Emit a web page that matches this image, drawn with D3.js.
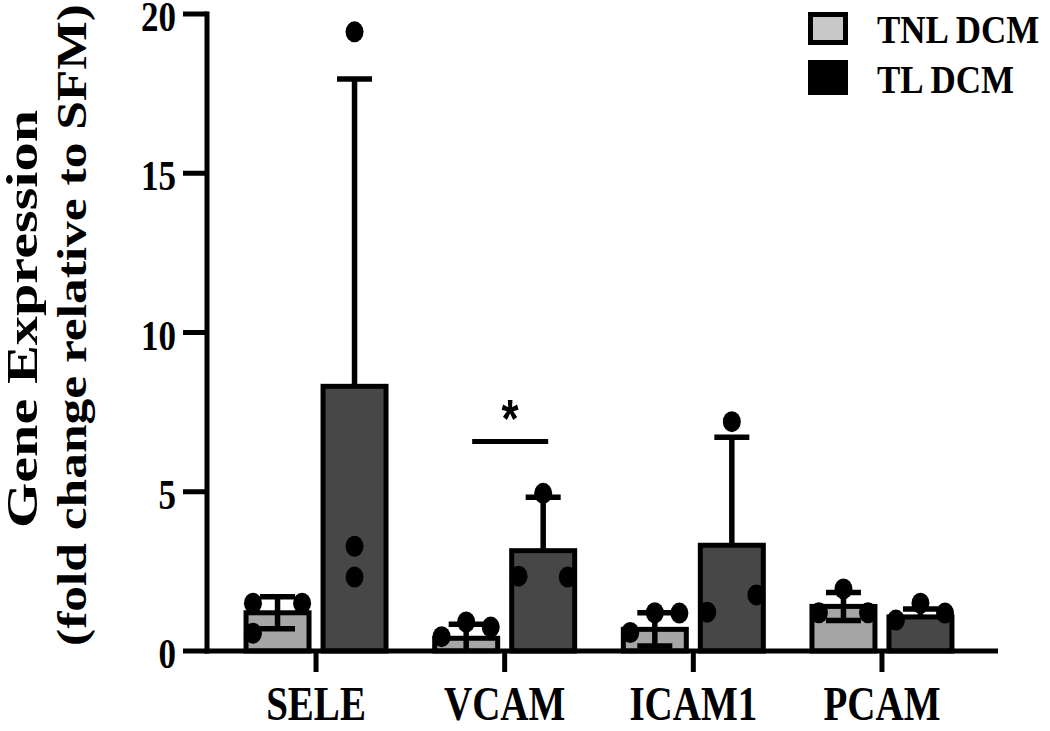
<!DOCTYPE html>
<html><head><meta charset="utf-8">
<script src="https://cdn.jsdelivr.net/npm/d3@7"></script>
<style>body{margin:0;background:#fff}svg{display:block}</style>
</head><body>
<script>
// ---- data ----
const categories = ["SELE", "VCAM", "ICAM1", "PCAM"];
const seriesNames = ["TNL DCM", "TL DCM"];
const tnlMean = [1.20, 0.40, 0.68, 1.40];
const tnlErr  = [0.50, 0.44, 0.52, 0.44];
const tlMean  = [8.31, 3.15, 3.32, 1.07];
const tlErr   = [9.65, 1.68, 3.39, 0.25];
const tnlPoints = [[1.50, 1.50, 0.56], [0.45, 0.91, 0.75], [0.58, 1.20, 1.19], [1.20, 1.95, 1.20]];
const tnlSlots  = [[-1, 1, -1], [-1, 0, 1], [-1, 0, 1], [-1, 0, 1]];
const tlPoints  = [[19.44, 3.29, 2.32], [4.95, 2.35, 2.32], [7.20, 1.22, 1.76], [0.97, 1.50, 1.19]];
const tlSlots   = [[0, 0, 0], [0, -1, 1], [0, -1, 1], [-1, 0, 1]];
const yTicks = [0, 5, 10, 15, 20];
const sigCategory = "VCAM";
const sigLevel = 6.58;
const sigLabel = "*";
const yTitleLines = ["Gene Expression", "(fold change relative to SFM)"];

// ---- layout ----
const W = 1050, H = 731;
const SY = 1.22; // vertical stretch of the original figure
const svg = d3.select("body").append("svg").attr("width", W).attr("height", H);
const serif = "'Liberation Serif','Times New Roman',serif";

const y = d3.scaleLinear().domain([0, 20]).range([651, 14]);
const x0 = d3.scaleBand().domain(categories).range([207, 991]).paddingInner(0).paddingOuter(0.078);
const groupW = 140;
const x1 = d3.scaleBand().domain(seriesNames).range([0, groupW]).paddingInner(0.182);
const bw = x1.bandwidth();
const gx = c => x0(c) + (x0.bandwidth() - groupW) / 2;

const series = [
  {name: seriesNames[0], mean: tnlMean, err: tnlErr, pts: tnlPoints, slots: tnlSlots, fill: "#a6a6a6", lower: true},
  {name: seriesNames[1], mean: tlMean, err: tlErr, pts: tlPoints, slots: tlSlots, fill: "#474747", lower: false}
];

const SW = 5;
// bars
series.forEach(s => {
  svg.append("g").selectAll("rect").data(categories).join("rect")
    .attr("x", c => gx(c) + x1(s.name))
    .attr("y", (c, i) => y(s.mean[i]))
    .attr("width", bw)
    .attr("height", (c, i) => y(0) - y(s.mean[i]))
    .attr("fill", s.fill).attr("stroke", "#000").attr("stroke-width", SW);
});

// error bars
const capW = 35;
series.forEach(s => {
  const g = svg.append("g").attr("stroke", "#000").attr("stroke-width", 5.5);
  categories.forEach((c, i) => {
    const cx = gx(c) + x1(s.name) + bw / 2;
    const top = s.mean[i] + s.err[i];
    g.append("line").attr("x1", cx).attr("x2", cx).attr("y1", y(s.mean[i])).attr("y2", y(top));
    g.append("line").attr("x1", cx - capW / 2).attr("x2", cx + capW / 2).attr("y1", y(top)).attr("y2", y(top));
    if (s.lower) {
      const lo = Math.max(0, s.mean[i] - s.err[i]);
      g.append("line").attr("x1", cx).attr("x2", cx).attr("y1", y(s.mean[i])).attr("y2", y(lo));
      if (lo > 0) g.append("line").attr("x1", cx - capW / 2).attr("x2", cx + capW / 2).attr("y1", y(lo)).attr("y2", y(lo));
    }
  });
});

// points
series.forEach(s => {
  const g = svg.append("g").attr("fill", "#000");
  categories.forEach((c, i) => {
    const cx = gx(c) + x1(s.name) + bw / 2;
    s.pts[i].forEach((v, k) => {
      g.append("ellipse").attr("cx", cx + s.slots[i][k] * bw * 0.39).attr("cy", y(v))
        .attr("rx", 9).attr("ry", 10.5);
    });
  });
});

// axes
const ax = svg.append("g").attr("stroke", "#000").attr("stroke-width", SW).attr("fill", "none");
ax.append("line").attr("x1", 207).attr("x2", 207).attr("y1", y(0) + 2.5).attr("y2", y(20) - 2.5);
ax.append("line").attr("x1", 204.5).attr("x2", 998).attr("y1", y(0)).attr("y2", y(0));
yTicks.forEach(t => {
  ax.append("line").attr("x1", 183).attr("x2", 207).attr("y1", y(t)).attr("y2", y(t));
});
categories.forEach(c => {
  const cx = x0(c) + x0.bandwidth() / 2;
  ax.append("line").attr("x1", cx).attr("x2", cx).attr("y1", y(0)).attr("y2", y(0) + 21);
});

// y tick labels
yTicks.forEach(t => {
  svg.append("g").attr("transform", `translate(176,${y(t)}) scale(1,${SY})`)
    .append("text").attr("text-anchor", "end").attr("dy", "0.40em")
    .attr("font-family", serif).attr("font-weight", "bold").attr("font-size", 35).text(t);
});

// category labels
categories.forEach(c => {
  const cx = x0(c) + x0.bandwidth() / 2;
  svg.append("g").attr("transform", `translate(${cx},720) scale(1,${SY})`)
    .append("text").attr("text-anchor", "middle")
    .attr("font-family", serif).attr("font-weight", "bold").attr("font-size", 39).text(c);
});

// y axis title
const ytLayout = [{bx: 37, cy: 319, fs: 43.5, st: 1.34}, {bx: 86, cy: 325, fs: 42, st: 1.225}];
yTitleLines.forEach((txt, i) => {
  const L = ytLayout[i];
  svg.append("g").attr("transform", `translate(${L.bx},${L.cy}) rotate(-90) scale(${L.st},1)`)
    .append("text").attr("text-anchor", "middle")
    .attr("font-family", serif).attr("font-weight", "bold").attr("font-size", L.fs).text(txt);
});

// significance
{
  const xa = gx(sigCategory) + x1(seriesNames[0]) + bw / 2 + 6;
  const xb = gx(sigCategory) + x1(seriesNames[1]) + bw / 2 + 5;
  svg.append("line").attr("x1", xa).attr("x2", xb).attr("y1", y(sigLevel)).attr("y2", y(sigLevel))
    .attr("stroke", "#000").attr("stroke-width", 5);
  svg.append("g").attr("transform", `translate(${(xa + xb) / 2},${y(sigLevel) - 4}) scale(1,${SY})`)
    .append("text").attr("text-anchor", "middle")
    .attr("font-family", "'Liberation Sans',Arial,sans-serif").attr("font-weight", "bold")
    .attr("font-size", 44).text(sigLabel);
}

// legend
const lg = svg.append("g");
lg.append("rect").attr("x", 810.5).attr("y", 14.5).attr("width", 35).attr("height", 28)
  .attr("fill", "#c8c8c8").attr("stroke", "#000").attr("stroke-width", SW);
lg.append("rect").attr("x", 808).attr("y", 60).attr("width", 40).attr("height", 35).attr("fill", "#000");
[[seriesNames[0], 43], [seriesNames[1], 93]].forEach(([t, by]) => {
  lg.append("g").attr("transform", `translate(877,${by}) scale(1,1.15)`)
    .append("text").attr("font-family", serif).attr("font-weight", "bold").attr("font-size", 35).text(t);
});
</script>
</body></html>
